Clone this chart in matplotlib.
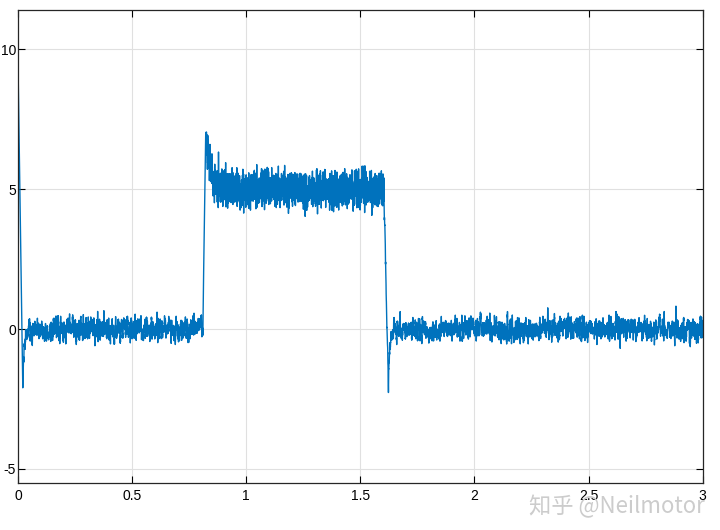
import numpy as np
import matplotlib
matplotlib.use('Agg')
import matplotlib.pyplot as plt

plt.rcParams['font.family'] = ['Liberation Sans', 'DejaVu Sans']

# signal description
t_end = 3.0
dt = 2.5e-4
start_peak = 9.5          # value at t=0
start_dip = -2.1          # undershoot after start
start_dip_t = 0.021
step_on_t = 0.81          # rise to the high level
step_on_peak = 7.0
step_on_peak_t = 0.822
high_level = 5.0
step_off_t = 1.603        # drop back to zero
step_off_dip = -2.2
step_off_dip_t = 1.623
low_noise_std = 0.2       # measurement noise around 0
high_noise_std = 0.3      # measurement noise around 5

xticks = [0, 0.5, 1, 1.5, 2, 2.5, 3]
xticklabels = ['0', '0.5', '1', '1.5', '2', '2.5', '3']
yticks = [-5, 0, 5, 10]
yticklabels = ['-5', '0', '5', '10']

t = np.arange(0, t_end + dt, dt)
y = np.zeros_like(t)

# start transient
m = t <= start_dip_t
y[m] = start_peak + (start_dip - start_peak) * t[m] / start_dip_t
m = (t > start_dip_t) & (t < step_on_t)
y[m] = start_dip * np.exp(-(t[m] - start_dip_t) / 0.005)

# step up with overshoot
m = (t >= step_on_t) & (t <= step_on_peak_t)
y[m] = step_on_peak * (t[m] - step_on_t) / (step_on_peak_t - step_on_t)
m = (t > step_on_peak_t) & (t < step_off_t)
y[m] = high_level + (step_on_peak - high_level) * np.exp(-(t[m] - step_on_peak_t) / 0.02)

# step down with undershoot
m = (t >= step_off_t) & (t <= step_off_dip_t)
y[m] = high_level + (step_off_dip - high_level) * (t[m] - step_off_t) / (step_off_dip_t - step_off_t)
m = t > step_off_dip_t
y[m] = step_off_dip * np.exp(-(t[m] - step_off_dip_t) / 0.005)

# noise (seeded, the original is a noisy measurement)
rng = np.random.default_rng(7)
low = np.convolve(rng.normal(0, 1, t.size), np.ones(8) / 8, mode='same')
low = low / low.std() * low_noise_std
high = np.convolve(rng.normal(0, 1, t.size), np.ones(2) / 2, mode='same')
high = high / high.std() * high_noise_std
high_seg = (t >= step_on_peak_t) & (t < step_off_t)
noise = np.where(high_seg, high, low)
noise[t < 0.025] = 0
noise[(t > step_on_t) & (t < step_on_peak_t + 0.003)] *= 0.3
y = y + noise

fig = plt.figure(figsize=(7.2, 5.3), dpi=100)
ax = fig.add_axes([0.025, 0.0887, 0.951, 0.8925])
ax.plot(t, y, color='#0072BD', linewidth=1.0)
ax.set_xlim(0, 3)
ax.set_ylim(-5.5, 11.4)
ax.set_xticks(xticks)
ax.set_xticklabels(xticklabels)
ax.set_yticks(yticks)
ax.set_yticklabels(yticklabels)
ax.grid(True, color='#e0e0e0', linewidth=0.8)
ax.set_axisbelow(True)
ax.tick_params(direction='in', top=True, right=True, labelsize=10, length=5, width=0.8)
ax.tick_params(axis='y', pad=1.5)
ax.tick_params(axis='x', pad=4)
for s in ax.spines.values():
    s.set_linewidth(0.9)
    s.set_color('#262626')

fig.text(0.735, 0.045, '知乎 @Neilmotor', fontsize=16, color='#cccccc',
         family=['Noto Sans CJK SC', 'DejaVu Sans'], va='center', ha='left')

fig.savefig('out.png', dpi=100)
